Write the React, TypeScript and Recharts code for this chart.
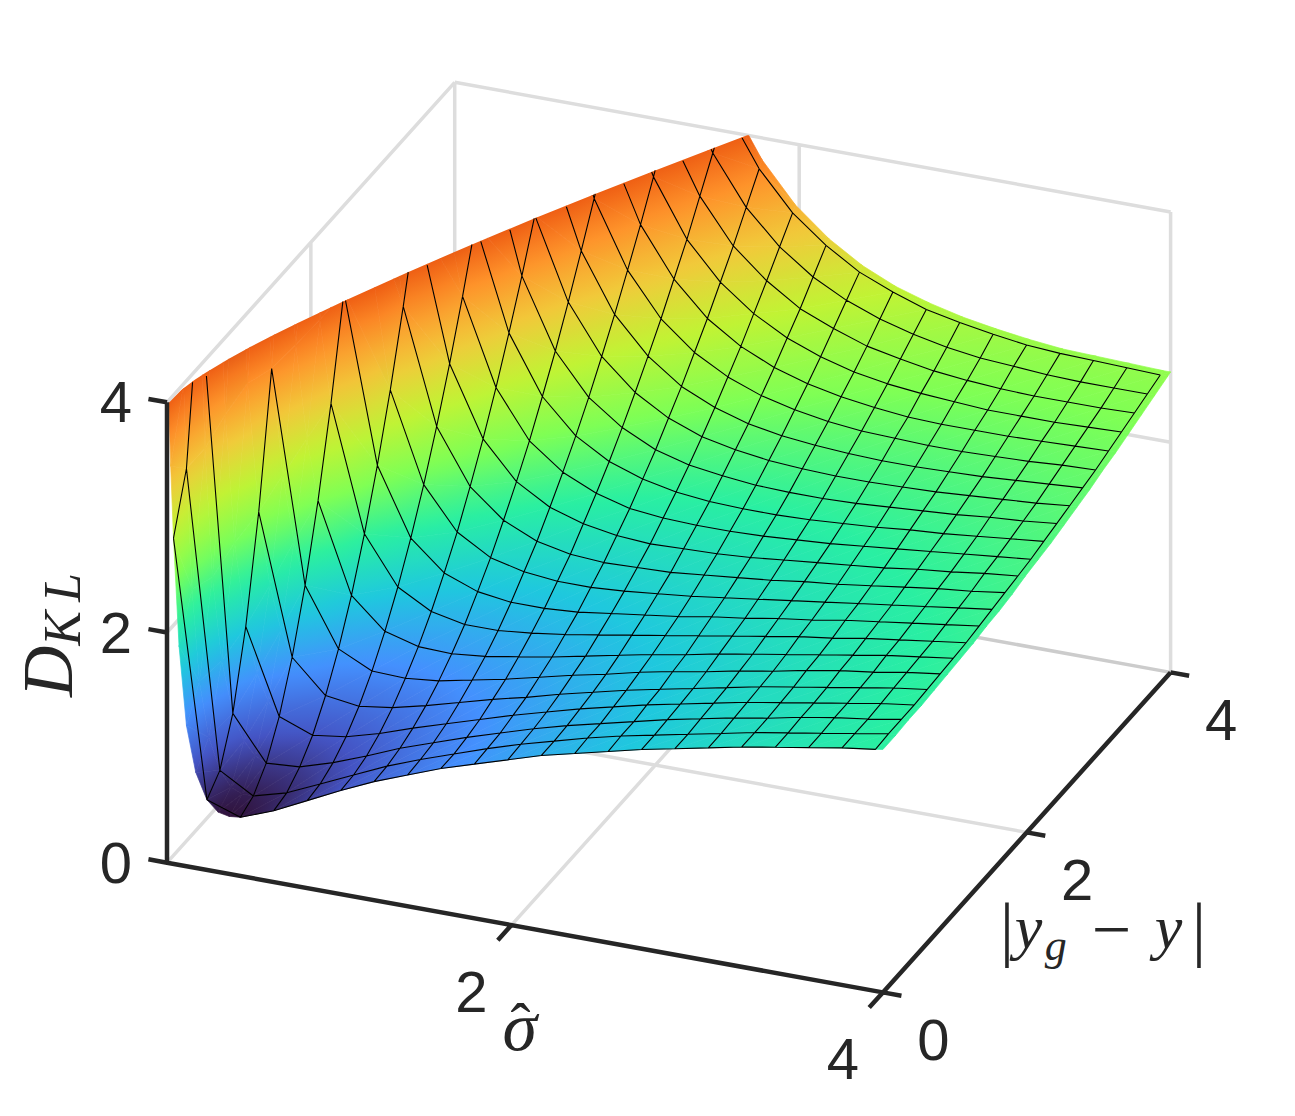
import { ComposedChart, Line, Scatter, XAxis, YAxis } from 'recharts';

const WIDTH = 1295;
const HEIGHT = 1116;

// sigma-hat columns of the surface, finer at the low end where it climbs fast
const sigmaValues = [
  0.15, 0.165, 0.18, 0.21, 0.25, 0.3, 0.36, 0.42, 0.48, 0.54, 0.72, 0.9, 1.08, 1.26, 1.44, 1.62,
  1.8, 1.98, 2.16, 2.34, 2.52, 2.7, 2.88, 3.06, 3.24, 3.42, 3.6, 3.78, 3.96, 4,
];

// |y_g - y| rows
const depthValues = [
  0, 0.18, 0.36, 0.54, 0.72, 0.9, 1.08, 1.26, 1.44, 1.62, 1.8, 1.98, 2.16, 2.34, 2.52, 2.7, 2.88,
  3.06, 3.24, 3.42, 3.6, 3.78, 3.96, 4,
];

// the wireframe only sits on every 0.18
const meshSigma = [
  0.18, 0.36, 0.54, 0.72, 0.9, 1.08, 1.26, 1.44, 1.62, 1.8, 1.98, 2.16, 2.34, 2.52, 2.7, 2.88,
  3.06, 3.24, 3.42, 3.6, 3.78, 3.96,
];
const meshDepth = depthValues.slice(0, 23);

// D_KL read per sigma column, rows past the clipped top are left out
const klValues = [
  [4.3, 5.0, 7.1],
  [3.45, 4.05, 5.85],
  [2.83, 3.31, 4.77, 7.2],
  [1.9, 2.27, 3.37, 5.2, 7.77],
  [1.22, 1.48, 2.26, 3.55, 5.37, 7.7],
  [0.83, 1.01, 1.55, 2.45, 3.71, 5.33, 7.31],
  [0.61, 0.74, 1.11, 1.74, 2.61, 3.73, 5.11, 6.74],
  [0.52, 0.61, 0.89, 1.35, 1.99, 2.82, 3.83, 5.02, 6.4],
  [0.5, 0.57, 0.78, 1.13, 1.62, 2.26, 3.03, 3.94, 5.0],
  [0.51, 0.57, 0.73, 1.01, 1.4, 1.9, 2.51, 3.23, 4.07, 5.01, 6.07, 7.24],
  [0.62, 0.65, 0.75, 0.9, 1.12, 1.4, 1.74, 2.15, 2.62, 3.15, 3.75, 4.4, 5.12, 5.9],
  [0.76, 0.78, 0.84, 0.94, 1.08, 1.26, 1.48, 1.74, 2.04, 2.38, 2.76, 3.18, 3.64, 4.14, 4.68, 5.26],
  [0.9, 0.91, 0.95, 1.02, 1.12, 1.25, 1.4, 1.58, 1.79, 2.02, 2.29, 2.58, 2.9, 3.25, 3.62, 4.02, 4.45, 4.91, 5.4],
  [1.03, 1.04, 1.07, 1.12, 1.19, 1.28, 1.39, 1.52, 1.68, 1.85, 2.05, 2.26, 2.49, 2.75, 3.02, 3.32, 3.64, 3.97, 4.33, 4.71, 5.11],
  [1.14, 1.15, 1.17, 1.21, 1.27, 1.34, 1.42, 1.52, 1.64, 1.78, 1.92, 2.09, 2.27, 2.46, 2.67, 2.9, 3.14, 3.4, 3.67, 3.96, 4.27, 4.59, 4.92, 5.0],
  [1.25, 1.25, 1.27, 1.3, 1.35, 1.4, 1.47, 1.55, 1.64, 1.75, 1.86, 2.0, 2.14, 2.29, 2.46, 2.64, 2.83, 3.03, 3.25, 3.47, 3.72, 3.97, 4.23, 4.29],
  [1.34, 1.35, 1.36, 1.39, 1.42, 1.47, 1.52, 1.59, 1.66, 1.75, 1.84, 1.95, 2.06, 2.19, 2.32, 2.47, 2.62, 2.79, 2.96, 3.15, 3.34, 3.55, 3.76, 3.81],
  [1.43, 1.44, 1.45, 1.47, 1.5, 1.54, 1.58, 1.64, 1.7, 1.77, 1.85, 1.93, 2.03, 2.13, 2.24, 2.36, 2.49, 2.63, 2.77, 2.93, 3.09, 3.26, 3.43, 3.47],
  [1.52, 1.52, 1.53, 1.55, 1.57, 1.6, 1.64, 1.69, 1.74, 1.8, 1.86, 1.94, 2.02, 2.1, 2.2, 2.3, 2.4, 2.52, 2.64, 2.77, 2.9, 3.05, 3.2, 3.23],
  [1.59, 1.6, 1.6, 1.62, 1.64, 1.67, 1.7, 1.74, 1.78, 1.83, 1.89, 1.95, 2.02, 2.09, 2.17, 2.26, 2.35, 2.45, 2.55, 2.66, 2.78, 2.9, 3.02, 3.05],
  [1.66, 1.67, 1.67, 1.69, 1.7, 1.73, 1.75, 1.79, 1.83, 1.87, 1.92, 1.97, 2.03, 2.09, 2.16, 2.24, 2.32, 2.4, 2.49, 2.58, 2.68, 2.79, 2.9, 2.92],
  [1.73, 1.73, 1.74, 1.75, 1.76, 1.78, 1.81, 1.84, 1.87, 1.91, 1.95, 2.0, 2.05, 2.1, 2.16, 2.23, 2.3, 2.37, 2.45, 2.53, 2.62, 2.71, 2.8, 2.83],
  [1.79, 1.79, 1.8, 1.81, 1.82, 1.84, 1.86, 1.89, 1.92, 1.95, 1.99, 2.03, 2.07, 2.12, 2.17, 2.23, 2.29, 2.36, 2.42, 2.5, 2.57, 2.65, 2.74, 2.76],
  [1.85, 1.85, 1.86, 1.87, 1.88, 1.89, 1.91, 1.94, 1.96, 1.99, 2.02, 2.06, 2.1, 2.14, 2.19, 2.24, 2.29, 2.35, 2.41, 2.48, 2.54, 2.61, 2.69, 2.71],
  [1.91, 1.91, 1.91, 1.92, 1.93, 1.95, 1.96, 1.98, 2.01, 2.03, 2.06, 2.09, 2.13, 2.17, 2.21, 2.25, 2.3, 2.35, 2.41, 2.46, 2.52, 2.59, 2.65, 2.67],
  [1.96, 1.96, 1.97, 1.97, 1.98, 2.0, 2.01, 2.03, 2.05, 2.07, 2.1, 2.13, 2.16, 2.19, 2.23, 2.27, 2.31, 2.36, 2.41, 2.46, 2.51, 2.57, 2.63, 2.64],
  [2.01, 2.01, 2.02, 2.02, 2.03, 2.04, 2.06, 2.07, 2.09, 2.11, 2.14, 2.16, 2.19, 2.22, 2.26, 2.29, 2.33, 2.37, 2.42, 2.46, 2.51, 2.56, 2.62, 2.63],
  [2.06, 2.06, 2.06, 2.07, 2.08, 2.09, 2.1, 2.11, 2.13, 2.15, 2.17, 2.2, 2.22, 2.25, 2.28, 2.31, 2.35, 2.39, 2.43, 2.47, 2.51, 2.56, 2.61, 2.62],
  [2.1, 2.11, 2.11, 2.11, 2.12, 2.13, 2.14, 2.15, 2.17, 2.19, 2.21, 2.23, 2.25, 2.28, 2.31, 2.34, 2.37, 2.4, 2.44, 2.48, 2.52, 2.56, 2.6, 2.61],
  [2.11, 2.11, 2.12, 2.12, 2.13, 2.14, 2.15, 2.16, 2.18, 2.19, 2.21, 2.24, 2.26, 2.28, 2.31, 2.34, 2.37, 2.41, 2.44, 2.48, 2.52, 2.56, 2.6, 2.61],
];

// where the surface meets the top of the box, D_KL = 4
const topEdgeSigma = [0.155, 0.16, 0.18, 0.2, 0.25, 0.3, 0.36, 0.42, 0.54, 0.72, 0.9, 1.08, 1.26, 1.44, 1.62, 1.72];
const topEdgeDepth = [0, 0.16, 0.296, 0.394, 0.589, 0.756, 0.938, 1.108, 1.427, 1.872, 2.291, 2.69, 3.073, 3.443, 3.801, 4];

const sigmaTicks = ['2', '4'];
const depthTicks = ['0', '2', '4'];
const klTicks = ['0', '2', '4'];

const turboColors = [
  '#30123b', '#4454c4', '#4490fe', '#1fc8de', '#29efa2', '#7eff55', '#c1f334', '#f1ca3a', '#fe922a',
  '#ea4f0d', '#7a0403',
];

// axes limits and the fitted view of the box
const SIGMA_MIN = 0.145;
const SIGMA_MAX = 4;
const DEPTH_MAX = 4;
const KL_MAX = 4;
const KL_DROP = 5;
const COLOR_MIN = 0.5;
const COLOR_MAX = 4.5;
const CLIP_ID = 'surface-top';

const project = (sigma: number, depth: number, kl: number) => ({
  px: 167 + (sigma - SIGMA_MIN) * 185.7 + depth * 71.93,
  py: 862.7 + (sigma - SIGMA_MIN) * 33.64 - depth * 80 - kl * 115.1,
});

const hexToRgb = (hex: string) => [1, 3, 5].map((i) => parseInt(hex.slice(i, i + 2), 16));

const turbo = (kl: number) => {
  const t = Math.min(1, Math.max(0, (kl - COLOR_MIN) / (COLOR_MAX - COLOR_MIN))) * (turboColors.length - 1);
  const lo = Math.min(turboColors.length - 2, Math.floor(t));
  const a = hexToRgb(turboColors[lo]);
  const b = hexToRgb(turboColors[lo + 1]);
  const rgb = a.map((v, i) => Math.round(v + (b[i] - v) * (t - lo)));
  return `rgb(${rgb.join(',')})`;
};

type Vertex = { px: number; py: number; kl: number };

const vertexAt = (i: number, j: number): Vertex | null => {
  const kl = klValues[i][j];
  if (kl === undefined) return null;
  return { ...project(sigmaValues[i], depthValues[j], kl), kl };
};

const cutAtTop = (a: Vertex, b: Vertex): Vertex => {
  const f = (KL_MAX - a.kl) / (b.kl - a.kl);
  return { px: a.px + (b.px - a.px) * f, py: a.py + (b.py - a.py) * f, kl: KL_MAX };
};

// plane of kl over the screen for one triangle, gives the direction of its gradient
const fitGradient = (vertices: Vertex[], mx: number, my: number) => {
  const mz = vertices.reduce((s, v) => s + v.kl, 0) / vertices.length;
  let sxx = 0;
  let sxy = 0;
  let syy = 0;
  let sxz = 0;
  let syz = 0;
  vertices.forEach((v) => {
    const x = v.px - mx;
    const y = v.py - my;
    const z = v.kl - mz;
    sxx += x * x;
    sxy += x * y;
    syy += y * y;
    sxz += x * z;
    syz += y * z;
  });
  const det = sxx * syy - sxy * sxy;
  if (Math.abs(det) < 1e-6) return null;
  const a = (syy * sxz - sxy * syz) / det;
  const b = (sxx * syz - sxy * sxz) / det;
  const g2 = a * a + b * b;
  if (g2 < 1e-10) return null;
  const fits = vertices.map((v) => a * (v.px - mx) + b * (v.py - my));
  const lo = Math.min(...fits);
  const hi = Math.max(...fits);
  return {
    x1: (a * lo) / g2,
    y1: (b * lo) / g2,
    x2: (a * hi) / g2,
    y2: (b * hi) / g2,
    zLo: mz + lo,
    zHi: mz + hi,
  };
};

const makeTriangle = (vertices: Vertex[], id: string) => {
  const px = vertices.reduce((s, v) => s + v.px, 0) / 3;
  const py = vertices.reduce((s, v) => s + v.py, 0) / 3;
  return { px, py, vertices, id, gradient: fitGradient(vertices, px, py) };
};

// far cells first so the near ones paint over them
const cellData: any[] = [];
for (let j = depthValues.length - 2; j >= 0; j--) {
  for (let i = 0; i < sigmaValues.length - 1; i++) {
    const a = vertexAt(i, j);
    const b = vertexAt(i + 1, j);
    const c = vertexAt(i + 1, j + 1);
    const d = vertexAt(i, j + 1);
    if (!a || !b || !c || !d) continue;
    cellData.push(makeTriangle([a, b, c], `tri-${i}-${j}-a`));
    cellData.push(makeTriangle([a, c, d], `tri-${i}-${j}-b`));
  }
}

const topEdgePoints = topEdgeSigma.map((s, k) => project(s, topEdgeDepth[k], KL_MAX));
const clipData = [{ ...topEdgePoints[0] }];

const gap = (p: { px: number; py: number }) => ({ px: p.px, py: null });

const segments = (pairs: { px: number; py: number }[][]) =>
  pairs.flatMap(([a, b]) => [a, b, gap(b)]);

const meshPairs: Vertex[][] = [];
const addMeshPair = (a: Vertex | null, b: Vertex | null) => {
  if (!a || !b || a.kl > KL_DROP || b.kl > KL_DROP) return;
  if (a.kl > KL_MAX && b.kl > KL_MAX) return;
  if (a.kl > KL_MAX) meshPairs.push([cutAtTop(a, b), b]);
  else if (b.kl > KL_MAX) meshPairs.push([a, cutAtTop(a, b)]);
  else meshPairs.push([a, b]);
};
const meshCols = meshSigma.map((s) => sigmaValues.indexOf(s));
meshCols.forEach((i) => {
  meshDepth.forEach((_, j) => {
    if (j < meshDepth.length - 1) addMeshPair(vertexAt(i, j), vertexAt(i, j + 1));
  });
});
meshDepth.forEach((_, j) => {
  meshCols.forEach((i, k) => {
    if (k < meshCols.length - 1) addMeshPair(vertexAt(i, j), vertexAt(meshCols[k + 1], j));
  });
});
const meshData = segments(meshPairs);

const P = project;
const gridData = segments([
  [P(SIGMA_MIN, 0, KL_MAX), P(SIGMA_MIN, DEPTH_MAX, KL_MAX)],
  [P(SIGMA_MIN, DEPTH_MAX, KL_MAX), P(SIGMA_MAX, DEPTH_MAX, KL_MAX)],
  [P(SIGMA_MIN, DEPTH_MAX, KL_MAX), P(SIGMA_MIN, DEPTH_MAX, 0)],
  [P(SIGMA_MAX, DEPTH_MAX, KL_MAX), P(SIGMA_MAX, DEPTH_MAX, 0)],
  [P(SIGMA_MIN, 0, 0), P(SIGMA_MIN, DEPTH_MAX, 0)],
  [P(SIGMA_MIN, 0, 2), P(SIGMA_MIN, DEPTH_MAX, 2)],
  [P(SIGMA_MIN, DEPTH_MAX, 2), P(SIGMA_MAX, DEPTH_MAX, 2)],
  [P(2, 0, 0), P(2, DEPTH_MAX, 0)],
  [P(2, DEPTH_MAX, 0), P(2, DEPTH_MAX, KL_MAX)],
  [P(SIGMA_MIN, 2, 0), P(SIGMA_MAX, 2, 0)],
  [P(SIGMA_MIN, 2, 0), P(SIGMA_MIN, 2, KL_MAX)],
]);
const floorBackData = segments([[P(SIGMA_MIN, DEPTH_MAX, 0), P(SIGMA_MAX, DEPTH_MAX, 0)]]);

const axisData = segments([
  [P(SIGMA_MIN, 0, 0), P(SIGMA_MIN, 0, KL_MAX)],
  [P(SIGMA_MIN, 0, 0), P(SIGMA_MAX, 0, 0)],
  [P(SIGMA_MAX, 0, 0), P(SIGMA_MAX, DEPTH_MAX, 0)],
  ...klTicks.map((t) => [P(SIGMA_MIN, 0, Number(t)), P(SIGMA_MIN - 0.1, 0, Number(t))]),
  ...sigmaTicks.map((t) => [P(Number(t), 0, 0), P(Number(t), -0.19, 0)]),
  ...depthTicks.map((t) => [P(SIGMA_MAX, Number(t), 0), P(SIGMA_MAX + 0.1, Number(t), 0)]),
]);

const offset = (p: { px: number; py: number }, dx: number, dy: number) => ({ px: p.px + dx, py: p.py + dy });

const tickLabelData = [
  ...klTicks.map((t) => ({ ...offset(P(SIGMA_MIN, 0, Number(t)), -51, 20), text: t })),
  ...sigmaTicks.map((t) => ({ ...offset(P(Number(t), 0, 0), -40, 87), text: t })),
  ...depthTicks.map((t) => ({ ...offset(P(SIGMA_MAX, Number(t), 0), 50.5, 67.8), text: t })),
];

const INK = '#262626';
const MATH_FONT = '"Liberation Serif", serif';

const CellShape = (props: any) => {
  const { cx, cy, payload } = props;
  const { vertices, px, py, gradient, id } = payload;
  const points = vertices.map((v: Vertex) => `${cx + v.px - px},${cy + v.py - py}`).join(' ');
  const clipPath = `url(#${CLIP_ID})`;
  if (!gradient) {
    const flat = turbo(vertices[0].kl);
    return <polygon points={points} fill={flat} stroke={flat} strokeWidth={0.7} clipPath={clipPath} />;
  }
  const stops = [0, 1 / 6, 2 / 6, 3 / 6, 4 / 6, 5 / 6, 1];
  return (
    <g>
      <defs>
        <linearGradient
          id={id}
          gradientUnits="userSpaceOnUse"
          x1={cx + gradient.x1}
          y1={cy + gradient.y1}
          x2={cx + gradient.x2}
          y2={cy + gradient.y2}
        >
          {stops.map((s) => (
            <stop key={s} offset={s} stopColor={turbo(gradient.zLo + (gradient.zHi - gradient.zLo) * s)} />
          ))}
        </linearGradient>
      </defs>
      <polygon points={points} fill={`url(#${id})`} stroke={`url(#${id})`} strokeWidth={0.7} clipPath={clipPath} />
    </g>
  );
};

// region under the top edge, the surface is cut against it
const TopEdgeClip = (props: any) => {
  const { cx, cy, payload } = props;
  const dx = cx - payload.px;
  const dy = cy - payload.py;
  const first = topEdgePoints[0];
  const last = topEdgePoints[topEdgePoints.length - 1];
  const outline = [
    { px: 0, py: HEIGHT },
    { px: 0, py: first.py },
    ...topEdgePoints,
    { px: WIDTH, py: last.py },
    { px: WIDTH, py: HEIGHT },
  ];
  return (
    <defs>
      <clipPath id={CLIP_ID}>
        <polygon points={outline.map((p) => `${p.px + dx},${p.py + dy}`).join(' ')} />
      </clipPath>
    </defs>
  );
};

const TickLabel = (props: any) => {
  const { cx, cy, payload } = props;
  return (
    <text x={cx} y={cy} textAnchor="middle" fontFamily='"Liberation Sans", Arial, sans-serif' fontSize={58} fill={INK}>
      {payload.text}
    </text>
  );
};

const SigmaTitle = (props: any) => {
  const { cx, cy } = props;
  return (
    <text x={cx - 18} y={cy} fontFamily={MATH_FONT} fontStyle="italic" fontSize={70} fill={INK}>
      σ
      <tspan x={cx - 10} y={cy - 6} fontStyle="normal" fontSize={60}>ˆ</tspan>
    </text>
  );
};

const DepthTitle = (props: any) => {
  const { cx, cy } = props;
  return (
    <text y={cy} fontFamily={MATH_FONT} fontSize={62} fill={INK}>
      <tspan x={cx - 100} dy={5} fontSize={72}>|</tspan>
      <tspan x={cx - 85} dy={-5} fontStyle="italic">y</tspan>
      <tspan x={cx - 55} dy={12} fontSize={44} fontStyle="italic">g</tspan>
      <tspan x={cx - 8} dy={-7} fontSize={70}>−</tspan>
      <tspan x={cx + 55} dy={-5} fontStyle="italic">y</tspan>
      <tspan x={cx + 92} dy={5} fontSize={72}>|</tspan>
    </text>
  );
};

const KlTitle = (props: any) => {
  const { cx, cy } = props;
  return (
    <text
      x={cx}
      y={cy}
      transform={`rotate(-90 ${cx} ${cy})`}
      fontFamily={MATH_FONT}
      fontStyle="italic"
      fontSize={71}
      fill={INK}
    >
      D
      <tspan dy={8} fontSize={52} letterSpacing={9}>KL</tspan>
    </text>
  );
};

export default function App() {
  return (
    <div style={{ position: 'absolute', left: 0, top: 0, background: '#fff' }}>
      <ComposedChart width={WIDTH} height={HEIGHT} margin={{ top: 0, right: 0, bottom: 0, left: 0 }}>
        <XAxis type="number" dataKey="px" domain={[0, WIDTH]} hide allowDataOverflow />
        <YAxis type="number" dataKey="py" domain={[0, HEIGHT]} reversed hide allowDataOverflow />
        <Line data={gridData} dataKey="py" stroke="#dddddd" strokeWidth={3.5} dot={false} activeDot={false} isAnimationActive={false} />
        <Line data={floorBackData} dataKey="py" stroke="#cccccc" strokeWidth={3.5} dot={false} activeDot={false} isAnimationActive={false} />
        <Scatter data={clipData} shape={TopEdgeClip} isAnimationActive={false} />
        <Scatter data={cellData} shape={CellShape} isAnimationActive={false} />
        <Line data={meshData} dataKey="py" stroke="#000000" strokeWidth={1.1} dot={false} activeDot={false} isAnimationActive={false} zIndex={700} />
        <Line data={axisData} dataKey="py" stroke={INK} strokeWidth={4.5} dot={false} activeDot={false} isAnimationActive={false} zIndex={700} />
        <Scatter data={tickLabelData} shape={TickLabel} isAnimationActive={false} zIndex={800} />
        <Scatter data={[offset(P(2, 0, 0), 9, 125)]} shape={SigmaTitle} isAnimationActive={false} zIndex={800} />
        <Scatter data={[offset(P(SIGMA_MAX, 2, 0), 73, 116)]} shape={DepthTitle} isAnimationActive={false} zIndex={800} />
        <Scatter data={[offset(P(SIGMA_MIN, 0, 2), -95, 64.5)]} shape={KlTitle} isAnimationActive={false} zIndex={800} />
      </ComposedChart>
    </div>
  );
}
